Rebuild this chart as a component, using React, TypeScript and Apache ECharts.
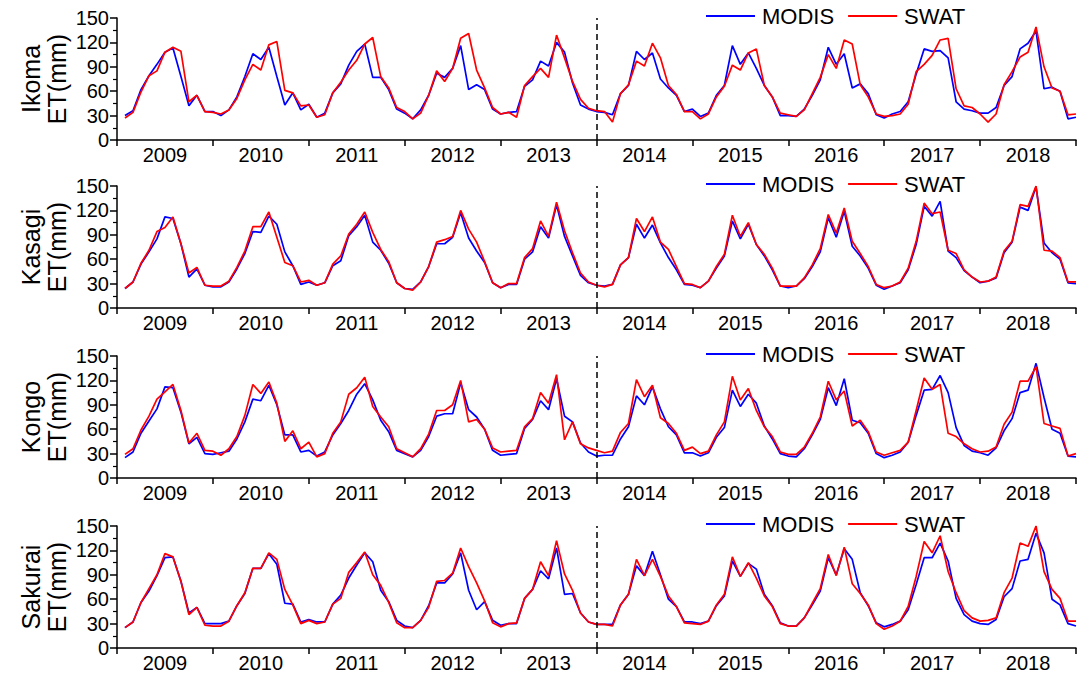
import React, { useEffect, useRef } from 'react';
import * as echarts from 'echarts';

// ---------- data ----------
const years = ['2009', '2010', '2011', '2012', '2013', '2014', '2015', '2016', '2017', '2018'];
const stations = ['Ikoma', 'Kasagi', 'Kongo', 'Sakurai'];
const seriesNames = ['MODIS', 'SWAT'];

// monthly ET (mm), Jan 2009 .. Dec 2018
const ikomaModis = [
  30, 36, 62, 79, 93, 108, 113, 78, 42, 55, 35, 35,
  30, 37, 53, 78, 106, 99, 114, 78, 43, 58, 37, 44,
  28, 33, 58, 69, 92, 109, 118, 77, 77, 62, 38, 33,
  26, 37, 55, 82, 77, 88, 116, 62, 68, 62, 38, 32,
  34, 35, 66, 74, 97, 91, 120, 108, 70, 43, 38, 35,
  34, 31, 57, 67, 109, 99, 107, 75, 64, 55, 35, 38,
  29, 33, 55, 67, 116, 93, 107, 88, 67, 53, 30, 30,
  29, 38, 55, 74, 114, 93, 106, 64, 69, 57, 31, 27,
  32, 35, 47, 81, 112, 109, 110, 101, 47, 38, 36, 33,
  33, 40, 67, 78, 112, 119, 134, 63, 65, 60, 26, 28,
];
const ikomaSwat = [
  27, 34, 59, 79, 85, 108, 114, 109, 47, 55, 35, 34,
  32, 37, 51, 74, 93, 86, 117, 121, 61, 58, 42, 43,
  28, 31, 58, 71, 86, 98, 118, 126, 78, 64, 40, 35,
  26, 33, 55, 85, 72, 88, 125, 131, 86, 64, 40, 32,
  34, 28, 67, 78, 88, 77, 129, 101, 72, 50, 39, 36,
  35, 22, 57, 68, 97, 91, 119, 101, 67, 56, 35, 35,
  26, 32, 53, 66, 92, 86, 107, 112, 67, 53, 33, 31,
  29, 37, 57, 77, 105, 88, 123, 118, 68, 53, 32, 29,
  30, 32, 44, 84, 93, 104, 123, 125, 63, 42, 40, 32,
  22, 32, 68, 84, 102, 108, 139, 90, 64, 60, 31, 32,
];
const kasagiModis = [
  24, 32, 54, 69, 85, 112, 110, 79, 38, 48, 28, 26,
  26, 32, 48, 67, 94, 93, 113, 103, 69, 52, 29, 32,
  28, 31, 52, 58, 89, 100, 114, 81, 71, 55, 31, 24,
  23, 32, 51, 79, 79, 87, 117, 86, 70, 56, 31, 25,
  29, 29, 60, 69, 100, 86, 127, 88, 64, 40, 31, 28,
  27, 29, 53, 62, 103, 86, 102, 80, 62, 47, 29, 28,
  25, 33, 49, 64, 107, 85, 103, 78, 64, 47, 27, 25,
  27, 36, 51, 69, 111, 87, 119, 76, 64, 49, 28, 23,
  27, 31, 47, 78, 125, 113, 131, 70, 62, 46, 38, 31,
  33, 37, 68, 81, 124, 120, 149, 80, 68, 60, 31, 30,
];
const kasagiSwat = [
  24, 32, 55, 71, 94, 99, 112, 79, 43, 50, 28, 27,
  27, 33, 50, 70, 100, 100, 118, 87, 56, 52, 32, 34,
  28, 31, 54, 64, 91, 103, 118, 93, 72, 57, 31, 24,
  22, 32, 51, 81, 84, 88, 120, 97, 81, 57, 31, 25,
  30, 30, 62, 73, 107, 88, 130, 95, 68, 43, 32, 28,
  26, 29, 53, 62, 110, 94, 112, 81, 72, 51, 30, 29,
  25, 33, 51, 66, 114, 88, 105, 78, 66, 49, 27, 27,
  27, 37, 53, 73, 115, 92, 123, 82, 67, 51, 29, 25,
  27, 32, 49, 82, 129, 116, 118, 71, 67, 47, 38, 32,
  33, 38, 70, 82, 127, 125, 150, 71, 70, 62, 32, 32,
];
const kongoModis = [
  25, 32, 55, 70, 85, 112, 111, 81, 42, 50, 30, 29,
  31, 33, 48, 69, 97, 95, 114, 90, 53, 53, 32, 34,
  27, 32, 53, 67, 83, 103, 116, 96, 71, 57, 34, 30,
  26, 34, 51, 76, 79, 79, 117, 84, 75, 60, 34, 28,
  29, 30, 61, 72, 95, 84, 122, 76, 69, 43, 32, 27,
  28, 28, 48, 63, 101, 90, 112, 85, 63, 53, 31, 31,
  27, 31, 50, 62, 108, 88, 103, 92, 64, 48, 30, 27,
  26, 36, 53, 72, 111, 89, 122, 71, 68, 55, 30, 25,
  28, 32, 44, 77, 108, 109, 126, 105, 62, 40, 33, 31,
  28, 37, 58, 73, 105, 108, 141, 99, 60, 55, 27, 26,
];
const kongoSwat = [
  29, 36, 59, 76, 97, 106, 115, 83, 43, 55, 34, 33,
  28, 36, 51, 77, 115, 104, 118, 92, 45, 58, 36, 44,
  26, 30, 55, 69, 103, 111, 124, 88, 75, 63, 36, 31,
  26, 36, 54, 83, 83, 90, 120, 69, 72, 60, 37, 32,
  33, 34, 63, 73, 105, 92, 127, 47, 69, 42, 37, 34,
  31, 33, 56, 67, 121, 100, 114, 74, 67, 55, 34, 38,
  30, 33, 53, 69, 125, 96, 110, 83, 63, 51, 32, 29,
  29, 38, 55, 75, 119, 96, 107, 64, 71, 57, 32, 28,
  31, 34, 44, 83, 123, 109, 115, 55, 51, 42, 36, 32,
  33, 38, 66, 81, 119, 119, 137, 67, 64, 61, 27, 30,
];
const sakuraiModis = [
  25, 32, 56, 70, 89, 111, 112, 82, 43, 50, 30, 30,
  30, 33, 52, 67, 98, 98, 116, 103, 55, 54, 32, 35,
  32, 32, 54, 65, 86, 102, 117, 106, 71, 57, 34, 27,
  25, 34, 52, 80, 80, 91, 117, 71, 47, 57, 34, 28,
  30, 30, 61, 72, 95, 85, 123, 66, 67, 43, 32, 29,
  29, 29, 53, 66, 101, 89, 119, 90, 60, 51, 32, 32,
  30, 33, 52, 64, 107, 88, 104, 97, 66, 52, 31, 27,
  27, 37, 53, 70, 111, 90, 122, 109, 68, 52, 31, 26,
  29, 33, 47, 78, 111, 111, 129, 107, 61, 41, 33, 30,
  29, 35, 63, 73, 107, 109, 141, 117, 60, 53, 30, 27,
];
const sakuraiSwat = [
  25, 32, 56, 73, 90, 116, 112, 82, 41, 50, 28, 27,
  27, 33, 52, 68, 98, 98, 117, 109, 72, 53, 30, 34,
  30, 32, 54, 61, 93, 105, 118, 90, 77, 56, 31, 25,
  25, 34, 50, 82, 83, 92, 123, 100, 80, 58, 31, 26,
  30, 31, 61, 72, 106, 89, 132, 91, 71, 43, 32, 29,
  29, 27, 53, 66, 109, 89, 109, 88, 64, 51, 31, 30,
  29, 33, 53, 66, 112, 88, 105, 86, 64, 51, 30, 27,
  27, 37, 55, 73, 115, 89, 124, 79, 67, 53, 30, 23,
  27, 33, 51, 88, 131, 117, 138, 94, 68, 46, 37, 33,
  34, 37, 68, 86, 129, 125, 150, 94, 72, 61, 33, 33,
];

const modisData = [ikomaModis, kasagiModis, kongoModis, sakuraiModis];
const swatData = [ikomaSwat, kasagiSwat, kongoSwat, sakuraiSwat];
const splitMonth = 60; // calibration / validation boundary (end of 2013)

// ---------- styling ----------
const FONT = '"Liberation Sans", Arial, Helvetica, sans-serif';
const GRID_TOPS = [18, 186, 356, 526];
const GRID_H = 122;
const GRID_LEFT = 117;
const GRID_RIGHT = 2;
const BLUE = '#0000ff';
const RED = '#ff0000';

function buildOption() {
  const grid = GRID_TOPS.map((t) => ({ left: GRID_LEFT, right: GRID_RIGHT, top: t, height: GRID_H }));
  const xAxis: any[] = [];
  const yAxis: any[] = [];
  const series: any[] = [];
  const legend: any[] = [];
  const graphic: any[] = [];

  GRID_TOPS.forEach((top, k) => {
    xAxis.push({
      gridIndex: k,
      type: 'value',
      min: 0,
      max: years.length * 12,
      show: false,
    });
    xAxis.push({
      gridIndex: k,
      type: 'category',
      position: 'bottom',
      data: years,
      boundaryGap: true,
      axisLine: { show: true, onZero: false, lineStyle: { color: '#000', width: 1.5 } },
      axisTick: { show: true, inside: false, length: 6, alignWithLabel: false, lineStyle: { color: '#000', width: 1.5 } },
      axisLabel: { color: '#000', fontSize: 20, fontFamily: FONT, margin: 5 },
      splitLine: { show: false },
    });
    yAxis.push({
      gridIndex: k,
      type: 'value',
      min: 0,
      max: 150,
      interval: 30,
      axisLine: { show: true, lineStyle: { color: '#000', width: 1.5 } },
      axisTick: { show: true, inside: false, length: 7, lineStyle: { color: '#000', width: 1.5 } },
      minorTick: { show: true, splitNumber: 2, length: 4, lineStyle: { color: '#000', width: 1.2 } },
      axisLabel: { color: '#000', fontSize: 20, fontFamily: FONT, margin: 8 },
      splitLine: { show: false },
      minorSplitLine: { show: false },
    });

    const toPoints = (arr: number[]) => arr.map((v, i) => [i + 1, v]);
    series.push({
      name: seriesNames[0],
      type: 'line',
      xAxisIndex: 2 * k,
      yAxisIndex: k,
      data: toPoints(modisData[k]),
      symbol: 'none',
      color: BLUE,
      lineStyle: { color: BLUE, width: 1.7 },
      markLine: {
        silent: true,
        symbol: ['none', 'none'],
        label: { show: false },
        lineStyle: { color: '#000', type: [6, 4], width: 1.5 },
        data: [{ xAxis: splitMonth }],
      },
    });
    series.push({
      name: seriesNames[1],
      type: 'line',
      xAxisIndex: 2 * k,
      yAxisIndex: k,
      data: toPoints(swatData[k]),
      symbol: 'none',
      color: RED,
      lineStyle: { color: RED, width: 1.7 },
    });

    legend.push({
      data: seriesNames,
      left: 706,
      top: top - 13,
      padding: 0,
      icon: 'rect',
      itemWidth: 49,
      itemHeight: 2,
      itemGap: 14,
      selectedMode: false,
      textStyle: { fontSize: 22, fontFamily: FONT, color: '#000', padding: [0, 0, 0, 2] },
    });

    const mid = top + GRID_H / 2;
    graphic.push({
      type: 'text',
      x: 31,
      y: mid,
      rotation: Math.PI / 2,
      style: { text: stations[k], font: `25px ${FONT}`, fill: '#000', textAlign: 'center', textVerticalAlign: 'middle' },
    });
    graphic.push({
      type: 'text',
      x: 57,
      y: mid,
      rotation: Math.PI / 2,
      style: { text: 'ET(mm)', font: `25px ${FONT}`, fill: '#000', textAlign: 'center', textVerticalAlign: 'middle' },
    });
  });

  return {
    animation: false,
    backgroundColor: '#fff',
    grid,
    xAxis,
    yAxis,
    series,
    legend,
    graphic,
  };
}

export default function App() {
  const ref = useRef<HTMLDivElement>(null);
  useEffect(() => {
    if (!ref.current) return;
    const chart = echarts.init(ref.current, undefined, { renderer: 'svg' });
    chart.setOption(buildOption());
    return () => chart.dispose();
  }, []);
  return (
    <div
      ref={ref}
      style={{ position: 'fixed', left: 0, top: 0, width: 1078, height: 676, background: '#fff' }}
    />
  );
}
